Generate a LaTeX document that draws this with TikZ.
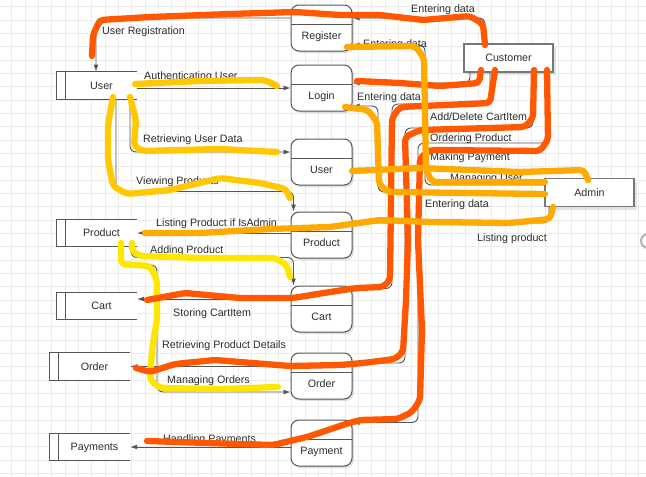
\documentclass[tikz,border=0pt]{standalone}
\usepackage{fontspec}
\setmainfont{Liberation Sans}
\usetikzlibrary{arrows.meta, shadows}

\definecolor{edge}{RGB}{85,85,85}
\definecolor{txt}{RGB}{45,45,45}
\definecolor{gridc}{RGB}{236,236,236}
\definecolor{hlred}{RGB}{255,88,0}
\definecolor{hlamber}{RGB}{255,170,0}
\definecolor{hlgold}{RGB}{255,200,0}
\definecolor{hlyellow}{RGB}{255,230,0}

\begin{document}
\begin{tikzpicture}[
  x=1pt, y=-1pt,
  % --- styles ------------------------------------------------------------
  every node/.style={font=\fontsize{10.7}{12}\selectfont, text=txt},
  proc/.style={
    rectangle, draw=edge, line width=1pt, rounded corners=8pt, fill=white,
    minimum width=61pt, minimum height=46pt, inner sep=0pt,
    drop shadow={shadow xshift=2pt, shadow yshift=-2pt, fill=black, opacity=0.12},
    path picture={\draw[edge, line width=1pt]
      ([yshift=-19pt]path picture bounding box.north west) --
      ([yshift=-19pt]path picture bounding box.north east);},
    label={[ptext]center:#1}
  },
  ptext/.style={yshift=-8pt, inner sep=0pt, text height=7.7pt, text depth=0pt},
  store/.style={
    fill=white, minimum width=71pt, minimum height=27.5pt, inner sep=0pt,
    text height=7.7pt, text depth=0pt
  },
  storeline/.style={draw=edge, line width=1pt, fill=white},
  entity/.style={
    rectangle, draw=edge!80, line width=1.2pt, fill=white,
    minimum width=89pt, minimum height=28pt, inner sep=0pt,
    text height=7.7pt, text depth=0pt,
    drop shadow={shadow xshift=3pt, shadow yshift=-3pt, fill=black, opacity=0.1}
  },
  flow/.style={-{Latex[length=7pt, width=5pt]}, draw=edge, line width=0.9pt, rounded corners=6pt},
  lbl/.style={anchor=base west, inner sep=0pt},
  gridline/.style={draw=gridc, line width=0.8pt},
  hl/.style={line width=6.3pt, line cap=round, line join=round, rounded corners=4pt}
]

% --------------------- canvas & grid ------------------------------------
\useasboundingbox (0,0) rectangle (646,477);
\fill[white] (0,0) rectangle (646,477);
\foreach \k in {0,...,47} \draw[gridline] ({11.7+13.333*\k},0) -- ({11.7+13.333*\k},477);
\foreach \k in {0,...,35} \draw[gridline] (0,{6.7+13.333*\k}) -- (646,{6.7+13.333*\k});
\draw[gray!60, line width=2pt] (648,241) circle[radius=7];

% --------------------- processes ----------------------------------------
\node[proc=Register] (preg)   at (321.5,28)  {};
\node[proc=Login]    (plogin) at (321.5,88)  {};
\node[proc=User]     (puser)  at (321.5,162) {};
\node[proc=Product]  (pprod)  at (321.5,235) {};
\node[proc=Cart]     (pcart)  at (321.5,309) {};
\node[proc=Order]    (porder) at (321.5,376) {};
\node[proc=Payment]  (ppay)   at (321.5,443) {};

% --------------------- data stores --------------------------------------
\node[store] (suser)  at (101.5,85.5) {User};
\node[store] (sprod)  at (101.5,233)  {Product};
\node[store] (scart)  at (101.5,306)  {Cart};
\node[store] (sorder) at (94.5,366.5) {Order};
\node[store] (spay)   at (94.5,447)   {Payments};

\draw[storeline] ([xshift=-9pt]suser.north west) rectangle (suser.south west)
  (suser.north west) -- (suser.north east) (suser.south west) -- (suser.south east);
\draw[storeline] ([xshift=-9pt]sprod.north west) rectangle (sprod.south west)
  (sprod.north west) -- (sprod.north east) (sprod.south west) -- (sprod.south east);
\draw[storeline] ([xshift=-9pt]scart.north west) rectangle (scart.south west)
  (scart.north west) -- (scart.north east) (scart.south west) -- (scart.south east);
\draw[storeline] ([xshift=-9pt]sorder.north west) rectangle (sorder.south west)
  (sorder.north west) -- (sorder.north east) (sorder.south west) -- (sorder.south east);
\draw[storeline] ([xshift=-9pt]spay.north west) rectangle (spay.south west)
  (spay.north west) -- (spay.north east) (spay.south west) -- (spay.south east);

% --------------------- external entities --------------------------------
\node[entity] (ecust)  at (508.5,58)    {Customer};
\node[entity] (eadmin) at (589.5,192.5) {Admin};

% --------------------- bend points --------------------------------------
\coordinate (obend)  at (157,265);
\coordinate (cbend)  at (392,104);
\coordinate (odbend) at (405,128);
\coordinate (pbend)  at (418,143);
\coordinate (rbend)  at (425,45);
\coordinate (lbend)  at (378,106);

% --------------------- left flows ---------------------------------------
\draw[flow] ([yshift=10pt]preg.west) -| ([xshift=-5.5pt]suser.north);
\draw[flow] (suser.east |- plogin.west) -- (plogin.west);
\draw[flow] ([xshift=28.5pt]suser.south) |- ([yshift=10pt]puser.west);
\draw[flow] ([xshift=14.5pt]suser.south) |- ([xshift=3pt, yshift=20pt]pprod.north west) -- ([xshift=3pt]pprod.north west);
\draw[flow] (pprod.west |- sprod.east) -- (sprod.east);
\draw[flow] ([xshift=29.5pt]sprod.south) |- ([xshift=3pt, yshift=28pt]pcart.north west) -- ([xshift=3pt]pcart.north west);
\draw[flow] ([xshift=20.5pt]sprod.south) |- (obend) |- ([yshift=-16pt]porder.west);
\draw[flow] ([yshift=10pt]pcart.west) -- ([yshift=7pt]scart.east);
\draw[flow] (porder.west |- sorder.east) -- (sorder.east);
\draw[flow] (ppay.west |- spay.east) -- (spay.east);

% --------------------- right flows --------------------------------------
\draw[flow] ([xshift=-23.5pt]ecust.north) |- ([yshift=10pt]preg.east);
\draw[flow] ([xshift=-38.5pt]ecust.south) |- ([yshift=5pt]plogin.east);
\draw[flow] ([xshift=-18.5pt]ecust.south) |- (cbend) |- ([yshift=-3pt]pcart.north east);
\draw[flow] ([xshift=24.5pt]ecust.south) |- (odbend) |- ([yshift=13pt]porder.east);
\draw[flow] ([xshift=38.5pt]ecust.south) |- (pbend) |- ([yshift=-3pt]ppay.north east);
\draw[flow] ([yshift=7.5pt]eadmin.west) -| (rbend) -- ([yshift=-17pt]preg.east);
\draw[flow] ([xshift=-2.5pt]eadmin.north) |- ([yshift=-8pt]puser.east);
\draw[flow] ([yshift=0.5pt]eadmin.west) -| (lbend) -- ([yshift=-18pt]plogin.east);
\draw[flow] ([xshift=-40.5pt]eadmin.south) |- ([yshift=12pt]pprod.east);

% --------------------- flow labels --------------------------------------
\node[lbl] (t-ureg)  at (102,34)  {User Registration};
\node[lbl] (t-auth)  at (144,79)  {Authenticating User};
\node[lbl] (t-rud)   at (143,142) {Retrieving User Data};
\node[lbl] (t-view)  at (136,184) {Viewing Products};
\node[lbl] (t-list)  at (156,226) {Listing Product if IsAdmin};
\node[lbl] (t-add)   at (150,253) {Adding Product};
\node[lbl] (t-store) at (173,316) {Storing CartItem};
\node[lbl] (t-rpd)   at (162,348) {Retrieving Product Details};
\node[lbl] (t-mord)  at (167,383) {Managing Orders};
\node[lbl] (t-hpay)  at (163,442) {Handling Payments};
\node[lbl] (t-ent1)  at (411,12)  {Entering data};
\node[lbl] (t-ent2)  at (363,47)  {Entering data};
\node[lbl] (t-ent3)  at (357,100) {Entering data};
\node[lbl] (t-cart)  at (430,120) {Add/Delete CartItem};
\node[lbl] (t-ord)   at (430,141) {Ordering Product};
\node[lbl] (t-mpay)  at (430,160) {Making Payment};
\node[lbl] (t-muser) at (450,181) {Managing User};
\node[lbl] (t-ent4)  at (425,207) {Entering data};
\node[lbl] (t-lprod) at (477,241) {Listing product};

% --------------------- highlighter strokes ------------------------------
% yellow: user and product store flows
\draw[hl, hlgold] (135,84) -- (200,81) -- (265,80) -- (277,86);
\draw[hl, hlgold] (130,97) -- (136,120) -- (134,146) -- (143,151) -- (220,149) -- (277,152);
\draw[hl, hlgold] (113,97) -- (108,125) -- (108,160) -- (113,186) -- (127,194) -- (170,190)
  -- (220,178) -- (260,183) -- (286,189) -- (290,198);
\draw[hl, hlyellow] (132,243) -- (132,251) -- (140,256) -- (200,258) -- (275,258) -- (287,265) -- (290,277);
\draw[hl, hlyellow] (121,243) -- (121,264) -- (150,266) -- (157,280) -- (157,320) -- (152,350)
  -- (150,380) -- (160,388) -- (220,389) -- (278,387);

% red: customer flows
\draw[hl, hlred] (485,45) -- (483,24) -- (470,16) -- (423,20) -- (380,15) -- (340,15) -- (295,12)
  -- (230,14) -- (150,17) -- (100,20) -- (93,35) -- (92,56);
\draw[hl, hlred] (481,70) -- (479,83) -- (440,86) -- (400,83) -- (357,81);
\draw[hl, hlred] (495,70) -- (490,103) -- (400,107) -- (392,118) -- (390,280) -- (383,287)
  -- (357,288) -- (330,292) -- (293,298) -- (240,298) -- (185,293) -- (147,300);
\draw[hl, hlred] (534,70) -- (533,118) -- (525,127) -- (420,130) -- (405,137) -- (408,240)
  -- (406,300) -- (403,352) -- (395,359) -- (363,363) -- (340,365) -- (290,366) -- (215,360)
  -- (175,364) -- (150,372) -- (136,368);
\draw[hl, hlred] (547,70) -- (548,140) -- (540,151) -- (430,150) -- (420,158) -- (418,240)
  -- (422,330) -- (420,400) -- (412,412) -- (398,419) -- (360,420) -- (346,424) -- (307,437)
  -- (273,445) -- (207,443) -- (147,441);

% amber: admin flows
\draw[hl, hlamber] (347,47) -- (415,46) -- (424,58) -- (426,170) -- (432,182) -- (545,182);
\draw[hl, hlamber] (345,107) -- (368,110) -- (377,122) -- (379,184) -- (388,192) -- (545,194);
\draw[hl, hlamber] (588,180) -- (584,170) -- (520,172) -- (420,168) -- (352,171);
\draw[hl, hlamber] (553,207) -- (550,219) -- (510,223) -- (430,222) -- (380,220) -- (330,227)
  -- (270,229) -- (200,233) -- (145,233);

\end{tikzpicture}
\end{document}
